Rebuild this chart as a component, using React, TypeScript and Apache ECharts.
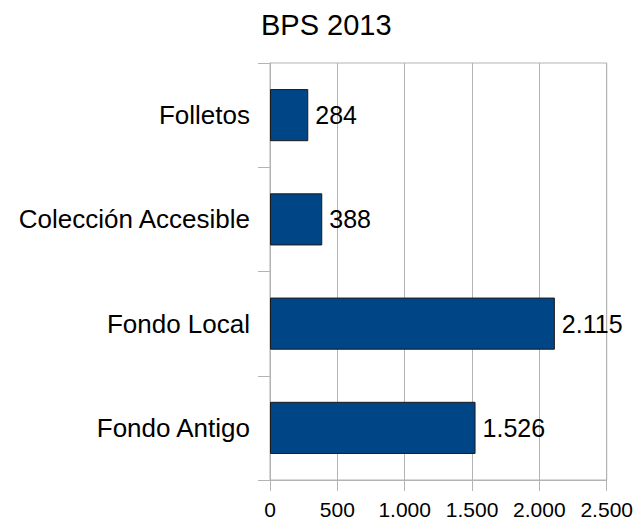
import React, { useEffect, useRef } from "react";
import * as echarts from "echarts";

const title = "BPS 2013";
const categories = ["Folletos", "Colección Accesible", "Fondo Local", "Fondo Antigo"];
const values = [284, 388, 2115, 1526];
const axisMin = 0;
const axisMax = 2500;
const axisStep = 500;

const fmt = (v: number) => String(Math.round(v)).replace(/\B(?=(\d{3})+(?!\d))/g, ".");

export default function App() {
  const ref = useRef<HTMLDivElement>(null);
  useEffect(() => {
    if (!ref.current) return;
    const chart = echarts.init(ref.current, undefined, { renderer: "svg" });
    const font = "Liberation Sans";
    const grey = "#b3b3b3";
    chart.setOption({
      animation: false,
      backgroundColor: "#ffffff",
      title: {
        text: title,
        left: 261,
        top: 10,
        padding: 0,
        textStyle: { fontFamily: font, fontSize: 29, fontWeight: "normal", color: "#000" },
      },
      grid: {
        left: 270,
        right: 29,
        top: 63,
        bottom: 42,
        show: true,
        borderColor: grey,
        borderWidth: 1,
        backgroundColor: "transparent",
      },
      xAxis: {
        type: "value",
        min: axisMin,
        max: axisMax,
        interval: axisStep,
        axisLine: { show: true, lineStyle: { color: grey, width: 1 } },
        axisTick: { show: true, length: 11, lineStyle: { color: grey } },
        splitLine: { show: true, lineStyle: { color: grey, width: 1 } },
        axisLabel: {
          fontFamily: font,
          fontSize: 21,
          color: "#000",
          margin: 19,
          formatter: (v: number) => fmt(v),
        },
      },
      yAxis: {
        type: "category",
        data: categories,
        inverse: true,
        axisLine: { show: true, lineStyle: { color: grey, width: 1 } },
        axisTick: { show: true, length: 12, alignWithLabel: false, lineStyle: { color: grey } },
        splitLine: { show: false },
        axisLabel: { fontFamily: font, fontSize: 26, color: "#000", margin: 20 },
      },
      series: [
        {
          type: "bar",
          data: values,
          barWidth: "50%",
          itemStyle: { color: "#004586", borderColor: "#1a1a1a", borderWidth: 1 },
          label: {
            show: true,
            position: "right",
            distance: 7,
            fontFamily: font,
            fontSize: 25,
            color: "#000",
            formatter: (p: any) => fmt(p.value),
          },
        },
      ],
    });
    return () => chart.dispose();
  }, []);
  return (
    <div
      ref={ref}
      style={{ position: "fixed", left: 0, top: 0, width: 636, height: 522, background: "#fff" }}
    />
  );
}
